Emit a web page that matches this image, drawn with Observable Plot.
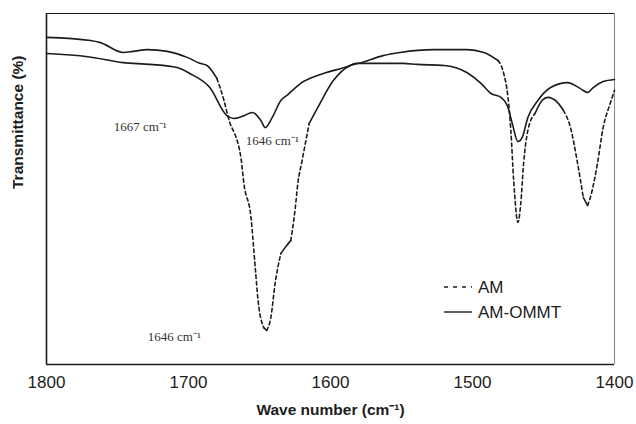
<!DOCTYPE html>
<html><head><meta charset="utf-8">
<script src="https://cdn.jsdelivr.net/npm/d3@7"></script>
<script src="https://cdn.jsdelivr.net/npm/@observablehq/plot@0.6"></script>
<style>
body{margin:0;background:#fff}
#wrap{position:relative;width:636px;height:424px}
</style>
</head><body><div id="wrap"></div>
<script>
// ---- data ----
const seriesNames = ["AM", "AM-OMMT"];
const xTicks = [1800, 1700, 1600, 1500, 1400];
const xTitle = "Wave number (cm⁻¹)";
const yTitle = "Transmittance (%)";

const amWave = [1800,1769,1762,1746,1739,1729,1715,1701,1692,1687,1680,1675,1672,1663,1661,1656,1653,1651,1647,1645,1642,1639,1635,1632,1628,1625,1623,1620,1615,1609,1598,1586,1580,1563,1551,1527,1504,1492,1482,1478,1475,1473,1471,1468,1466,1464,1461,1456,1451,1447,1440,1436,1431,1426,1422,1419,1417,1412,1408,1403,1400];
const amT = [93.2,92.3,91.7,88.9,89.2,89.7,89.2,87.5,85.8,85.2,81.5,75.2,70.4,58.7,51.6,41.9,27.6,18.2,10.5,9.7,13.4,23.1,31.6,33.3,35.3,43.9,51.6,58.1,68.7,73.2,80.9,85.2,85.8,88.0,88.9,89.7,89.7,88.9,86.6,82.9,76.1,66.7,52.4,40.5,45.9,57.3,66.7,71.5,75.2,76.1,74.6,72.4,67.5,57.3,47.6,45.3,47.6,57.3,67.5,74.4,78.1];

const ommtWave = [1800,1771,1746,1727,1708,1699,1685,1673,1668,1662,1655,1649,1646,1641,1635,1630,1621,1605,1588,1582,1563,1549,1539,1520,1504,1494,1487,1480,1475,1472,1468,1465,1461,1454,1445,1433,1424,1419,1415,1408,1400];
const ommtT = [88.6,87.7,86.0,85.5,84.6,82.9,78.9,70.9,70.1,70.7,71.8,69.5,67.5,70.4,75.2,76.9,80.1,82.9,84.9,85.8,85.8,85.8,85.5,85.2,83.2,80.1,77.2,76.1,73.2,68.7,63.5,64.7,70.4,75.2,78.9,80.3,78.6,77.5,78.9,80.6,81.2];

const annLabels = ["1667 cm⁻¹", "1646 cm⁻¹", "1646 cm⁻¹"];
const annWave = [1734, 1641, 1710];
const annT = [67.8, 63.8, 8.0];

// ---- derived tables ----
const am = amWave.map((w, i) => ({w, t: amT[i]}));
const ommt = ommtWave.map((w, i) => ({w, t: ommtT[i]}));
const ann = annLabels.map((label, i) => ({label, w: annWave[i], t: annT[i]}));

// AM: steep stretches drawn dashed, flat stretches solid (as in the reference)
const steepLimit = 0.8;
const amRuns = [];
let runId = -1, prevSteep = null;
for (let i = 0; i < am.length - 1; i++) {
  const a = am[i], b = am[i + 1];
  const steep = Math.abs((b.t - a.t) / (b.w - a.w)) > steepLimit;
  if (steep !== prevSteep) { runId++; amRuns.push({run: runId, steep, w: a.w, t: a.t}); prevSteep = steep; }
  amRuns.push({run: runId, steep, w: b.w, t: b.t});
}

const ink = "#1c1c1c";
const chart = Plot.plot({
  width: 636, height: 424,
  marginLeft: 46, marginRight: 22, marginTop: 13, marginBottom: 60,
  style: {fontFamily: "'Liberation Sans', Arial, sans-serif", background: "#fff", color: ink},
  x: {domain: [1800, 1400]},
  y: {domain: [0, 100], axis: null},
  marks: [
    Plot.axisX({ticks: xTicks, tickSize: 0, tickPadding: 11, fontSize: 17, label: null, tickFormat: d => String(d)}),
    Plot.ruleY([0], {stroke: ink, strokeWidth: 1.6}),
    Plot.ruleY([100], {stroke: ink, strokeWidth: 1.1}),
    Plot.ruleX([1800], {stroke: ink, strokeWidth: 1.6}),
    Plot.ruleX([1400], {stroke: "#8a8a8a", strokeWidth: 1.1}),
    Plot.line(ommt, {x: "w", y: "t", stroke: ink, strokeWidth: 1.6, curve: "monotone-x"}),
    Plot.line(amRuns, {filter: d => !d.steep, x: "w", y: "t", z: "run", stroke: ink, strokeWidth: 1.6, curve: "monotone-x"}),
    Plot.line(amRuns, {filter: d => d.steep, x: "w", y: "t", z: "run", stroke: ink, strokeWidth: 1.6, strokeDasharray: "3.5,3", curve: "monotone-x"}),
    Plot.text(ann, {x: "w", y: "t", text: "label", fontFamily: "'Liberation Serif', 'Times New Roman', serif", fontSize: 13, fill: "#333"}),
    Plot.text([xTitle], {text: d => d, frameAnchor: "bottom", dy: 46, lineAnchor: "middle", fontSize: 15.5, fontWeight: "bold"}),
    Plot.text([yTitle], {text: d => d, frameAnchor: "left", dx: -28, rotate: -90, lineAnchor: "middle", fontSize: 15.5, fontWeight: "bold"})
  ]
});
document.getElementById("wrap").appendChild(chart);

// legend inside the plot, lower right
const svg = d3.select(chart);
const lg = svg.append("g").attr("font-family", "'Liberation Sans', Arial, sans-serif").attr("font-size", 17)
  .attr("fill", ink).attr("text-anchor", "start");
const legendRows = [{name: seriesNames[0], dash: "4,5"}, {name: seriesNames[1], dash: null}];
legendRows.forEach((r, i) => {
  const y = 287 + i * 25;
  const ln = lg.append("line").attr("x1", 444).attr("x2", 472).attr("y1", y).attr("y2", y)
    .attr("stroke", ink).attr("stroke-width", 1.4);
  if (r.dash) ln.attr("stroke-dasharray", r.dash);
  lg.append("text").attr("x", 478).attr("y", y).attr("dy", "0.36em").attr("text-anchor", "start").text(r.name);
});
</script>
</body></html>
